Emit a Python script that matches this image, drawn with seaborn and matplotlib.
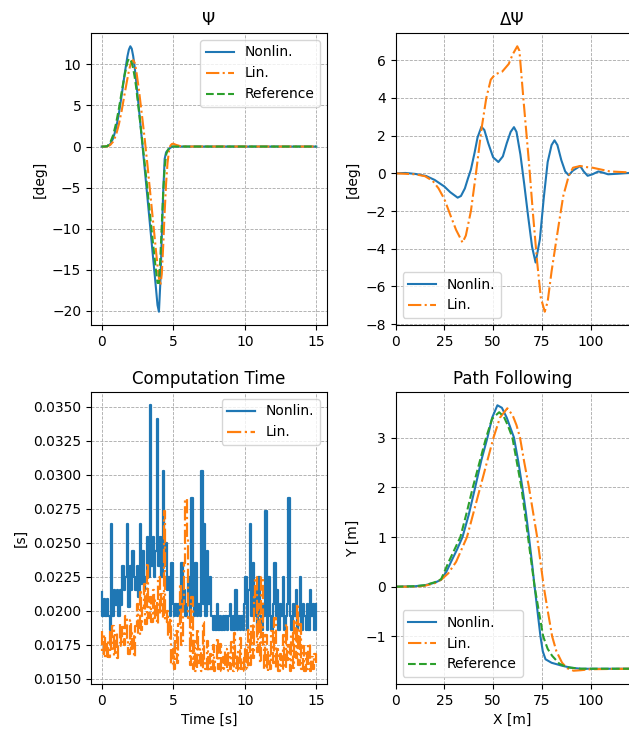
import numpy as np
import matplotlib
matplotlib.use("Agg")
import matplotlib.pyplot as plt
import seaborn as sns

# ---------------- data ----------------
# Psi (heading) vs time
psi_t = [0, 0.2, 0.4, 0.6, 0.8, 1.0, 1.2, 1.4, 1.6, 1.8, 1.9, 2.0, 2.1, 2.2, 2.3, 2.4,
         2.6, 2.8, 3.0, 3.2, 3.4, 3.6, 3.8, 3.9, 4.0, 4.1, 4.2, 4.3, 4.4, 4.5, 4.6, 4.7,
         4.8, 4.9, 5.0, 5.2, 5.5, 6.0, 15.0]
psi_nonlin = [0, 0, 0.05, 0.3, 1.0, 2.2, 4.0, 6.3, 8.8, 11.0, 11.8, 12.2, 11.9, 11.0, 9.7, 8.1,
              4.6, 1.0, -2.6, -6.3, -10.0, -13.7, -17.4, -19.3, -20.1, -16.5, -11.0, -5.5, -1.5, -0.7, -0.5, -0.3,
              -0.15, -0.05, 0, 0, 0, 0, 0]
psi_lin = [0, 0, 0.02, 0.2, 0.6, 1.4, 2.7, 4.4, 6.4, 8.3, 9.2, 9.9, 10.4, 10.5, 10.2, 9.4,
           6.9, 4.0, 1.0, -2.3, -5.8, -9.3, -12.8, -14.5, -16.0, -16.9, -15.5, -12.0, -8.0, -4.5, -2.0, -0.6,
           0.1, 0.3, 0.35, 0.2, 0.05, 0, 0]
psi_ref = [0, 0, 0.05, 0.5, 1.4, 2.8, 4.6, 6.7, 8.7, 10.3, 10.7, 10.6, 10.2, 9.5, 8.5, 7.3,
           4.3, 1.2, -2.0, -5.3, -8.7, -12.0, -15.2, -16.6, -16.6, -13.5, -9.5, -5.5, -2.5, -1.0, -0.5, -0.2,
           -0.05, 0, 0, 0, 0, 0, 0]

# Delta Psi vs X
dpsi_x_nonlin = [0, 5, 10, 15.6, 20, 25, 28, 31.8, 33.5, 35.5, 37, 38.6, 40.5, 42, 44, 45.5,
                 47.5, 50, 52.7, 55, 57, 59, 60.7, 62, 64, 66, 68, 70, 71.8, 74, 76, 78,
                 80, 81.5, 83, 85, 87, 88.8, 91, 94.7, 96.5, 98.5, 101, 104, 106, 109, 114, 120]
dpsi_nonlin = [0, 0.02, -0.03, -0.14, -0.35, -0.7, -1.0, -1.29, -1.2, -0.8, -0.3, 0.2, 1.1, 1.9, 2.47, 2.3,
               1.6, 0.85, 0.6, 0.9, 1.6, 2.2, 2.45, 2.2, 1.0, -0.6, -2.3, -3.9, -4.73, -3.5, -1.3, 0.6,
               1.5, 1.75, 1.5, 0.7, 0.1, -0.1, 0.15, 0.39, 0.1, -0.13, -0.05, 0.1, 0.05, -0.05, -0.02, 0.02]
dpsi_x_lin = [0, 10, 15, 19, 22, 25, 28, 31, 34.3, 36, 38.6, 41.2, 44, 46.5, 48.8, 51,
              54.7, 58, 60, 62.4, 63.5, 65.5, 68.4, 70.5, 72.6, 74.5, 76.5, 78, 80, 82, 84, 86,
              88.8, 91, 94.7, 98, 101, 110, 120]
dpsi_lin = [0, -0.05, -0.15, -0.4, -0.8, -1.37, -2.2, -3.0, -3.67, -3.3, -2.0, 0.0, 2.33, 4.0, 4.97, 5.25,
            5.4, 5.8, 6.3, 6.74, 6.5, 4.0, 0.57, -2.2, -4.7, -6.6, -7.34, -6.8, -5.2, -3.84, -2.5, -1.2,
            -0.14, 0.3, 0.39, 0.33, 0.3, 0.1, 0.05]

# Computation time (ms), sampled every 0.1 s from 0 to 15 s
comp_nonlin_ms = [
    21.4, 19.6, 20.9, 19.6, 20.9, 19.6, 18.6, 26.4, 19.6, 21.5,
    20.4, 21.5, 19.6, 21.5, 20.4, 23.3, 21.5, 22.5, 26.4, 20.3,
    23.3, 21.5, 24.4, 22.5, 21.5, 23.3, 21.0, 26.4, 22.0, 24.4,
    21.5, 22.5, 25.4, 22.5, 35.1, 23.3, 25.4, 22.5, 24.4, 34.1,
    23.3, 25.4, 22.5, 30.3, 23.3, 25.0, 21.5, 22.5, 19.6, 23.5,
    20.5, 19.6, 20.5, 19.6, 20.5, 19.6, 23.5, 20.5, 21.5, 19.6,
    20.5, 22.5, 19.6, 28.3, 20.5, 19.6, 23.5, 19.6, 20.5, 19.6,
    30.3, 20.5, 26.4, 19.6, 24.4, 20.5, 22.5, 19.6, 18.6, 19.6,
    18.6, 20.5, 18.6, 19.6, 18.6, 19.6, 18.6, 19.6, 18.6, 19.6,
    20.5, 18.6, 19.6, 18.6, 21.5, 18.6, 19.6, 18.6, 19.6, 18.6,
    20.5, 22.5, 18.6, 21.5, 26.4, 19.6, 23.5, 19.6, 21.5, 18.6,
    22.5, 19.6, 18.6, 20.5, 19.6, 27.3, 18.6, 22.5, 19.6, 18.6,
    20.5, 23.5, 19.6, 21.5, 18.6, 20.5, 19.6, 22.5, 18.6, 19.6,
    20.5, 28.3, 19.6, 18.6, 20.5, 19.6, 21.5, 18.6, 19.6, 22.5,
    18.6, 20.5, 19.6, 18.6, 20.5, 18.6, 21.5, 19.6, 20.5, 18.6,
    20.5]
comp_lin_ms = [
    18.5, 16.8, 18.2, 16.5, 17.8, 16.6, 18.6, 17.2, 18.9, 16.7,
    18.4, 16.5, 17.6, 19.0, 17.4, 18.8, 17.5, 19.6, 18.0, 16.8,
    19.3, 17.2, 18.4, 16.6, 18.9, 20.5, 18.2, 21.5, 18.6, 20.2,
    22.0, 19.0, 23.5, 19.5, 21.0, 19.2, 21.5, 19.5, 20.8, 19.0,
    22.5, 19.8, 21.2, 19.5, 27.3, 19.2, 20.0, 18.0, 19.5, 16.0,
    17.2, 15.7, 18.5, 16.2, 19.0, 22.0, 17.5, 20.5, 23.5, 28.2,
    25.3, 19.5, 16.0, 21.0, 15.7, 17.8, 15.6, 18.7, 16.2, 17.2,
    15.6, 19.2, 16.3, 15.7, 17.8, 15.6, 16.8, 15.7, 17.5, 15.6,
    16.4, 18.0, 15.7, 17.6, 15.6, 16.6, 15.7, 17.2, 15.6, 16.9,
    15.7, 17.7, 15.6, 18.4, 15.8, 17.0, 15.6, 18.0, 15.7, 16.5,
    15.6, 17.5, 15.7, 18.6, 16.0, 19.0, 16.5, 21.0, 22.5, 17.0,
    20.5, 16.2, 22.5, 17.5, 15.7, 18.2, 15.6, 17.0, 15.7, 18.5,
    16.2, 19.5, 15.8, 17.2, 15.6, 16.8, 15.7, 18.2, 15.8, 19.0,
    16.4, 17.5, 15.6, 18.4, 15.8, 19.3, 16.5, 20.5, 16.0, 19.0,
    15.7, 17.4, 15.6, 16.9, 15.7, 17.6, 15.6, 16.6, 15.7, 16.8,
    16.2]
comp_t = np.round(np.arange(len(comp_nonlin_ms)) * 0.1, 1)

# Path following (X, Y)
path_x_nonlin = [0, 10, 15, 20, 23.3, 26, 28.4, 31.5, 34.3, 37.5, 40.8, 44, 47.1, 49.5, 52.2, 54.5,
                 57, 60.7, 63, 65, 66.8, 68.4, 69.9, 71.3, 72.8, 74.3, 75.5, 76.9, 80, 85.4, 90, 95, 120]
path_y_nonlin = [0, 0.01, 0.03, 0.08, 0.14, 0.3, 0.5, 0.75, 1.0, 1.45, 2.0, 2.55, 3.0, 3.4, 3.65, 3.6,
                 3.4, 3.0, 2.5, 2.0, 1.5, 1.0, 0.5, 0.0, -0.5, -1.0, -1.3, -1.46, -1.53, -1.59, -1.63, -1.65, -1.65]
path_x_lin = [0, 10, 15, 20, 23.3, 27, 31, 33.8, 36.6, 40, 43.4, 46.8, 50.2, 53.5, 57.3, 60,
              62, 63.8, 66, 68.4, 70.5, 72.6, 74.3, 76, 78.1, 80.3, 82.5, 85.4, 88, 91.3, 95, 100, 120]
path_y_lin = [0, 0.0, 0.02, 0.07, 0.14, 0.27, 0.5, 0.75, 1.0, 1.5, 2.0, 2.5, 3.0, 3.4, 3.59, 3.45,
              3.25, 3.0, 2.5, 2.0, 1.5, 1.0, 0.5, 0.0, -0.5, -1.0, -1.3, -1.53, -1.64, -1.69, -1.68, -1.66, -1.65]
path_x_ref = [0, 10, 15, 20, 23.3, 25, 27.2, 30.2, 33.2, 36.5, 39.6, 43, 46.4, 49.5, 53.1, 55.5,
              57.5, 59.9, 62.2, 64.5, 66.2, 67.9, 69.6, 71.3, 73.5, 75.7, 78, 80.3, 84, 88, 95, 120]
path_y_ref = [0, 0.01, 0.03, 0.09, 0.15, 0.3, 0.5, 0.75, 1.0, 1.5, 2.0, 2.5, 3.0, 3.38, 3.51, 3.42,
              3.25, 3.0, 2.5, 2.0, 1.5, 1.0, 0.5, 0.0, -0.5, -1.0, -1.25, -1.39, -1.55, -1.62, -1.65, -1.65]

C_NL, C_L, C_R = "#1f77b4", "#ff7f0e", "#2ca02c"

# ---------------- figure ----------------
W, H = 629, 729
fig = plt.figure(figsize=(W / 100, H / 100), dpi=100)

def add_ax(x0, y0, x1, y1):
    return fig.add_axes([x0 / W, 1 - y1 / H, (x1 - x0) / W, (y1 - y0) / H])

ax_tl = add_ax(91, 33, 327, 325)
ax_tr = add_ax(395.7, 33, 629.5, 325)
ax_bl = add_ax(91, 392, 327, 684)
ax_br = add_ax(395.7, 392, 629.5, 684)

def grid(ax):
    ax.grid(True, linestyle="--", color="#a8a8a8", linewidth=0.6)
    ax.set_axisbelow(True)

# Psi
sns.lineplot(x=psi_t, y=psi_nonlin, ax=ax_tl, color=C_NL, linestyle="-", label="Nonlin.", lw=1.5)
sns.lineplot(x=psi_t, y=psi_lin, ax=ax_tl, color=C_L, linestyle="-.", label="Lin.", lw=1.5)
sns.lineplot(x=psi_t, y=psi_ref, ax=ax_tl, color=C_R, linestyle="--", label="Reference", lw=1.5)
ax_tl.set_title("Ψ")
ax_tl.set_ylabel("[deg]")
ax_tl.set_xticks([0, 5, 10, 15])
ax_tl.legend(loc="upper right")
grid(ax_tl)

# Delta Psi
sns.lineplot(x=dpsi_x_nonlin, y=dpsi_nonlin, ax=ax_tr, color=C_NL, linestyle="-", label="Nonlin.", lw=1.5)
sns.lineplot(x=dpsi_x_lin, y=dpsi_lin, ax=ax_tr, color=C_L, linestyle="-.", label="Lin.", lw=1.5)
ax_tr.set_title("ΔΨ")
ax_tr.set_ylabel("[deg]")
ax_tr.set_xlim(0, 120)
ax_tr.set_xticks([0, 25, 50, 75, 100])
ax_tr.legend(loc="lower left")
grid(ax_tr)

# Computation time
sns.lineplot(x=comp_t, y=np.array(comp_nonlin_ms) / 1000, ax=ax_bl, color=C_NL, linestyle="-",
             label="Nonlin.", lw=1.6, drawstyle="steps-mid")
sns.lineplot(x=comp_t, y=np.array(comp_lin_ms) / 1000, ax=ax_bl, color=C_L, linestyle="-.",
             label="Lin.", lw=1.6, drawstyle="steps-mid")
ax_bl.set_title("Computation Time")
ax_bl.set_ylabel("[s]")
ax_bl.set_xlabel("Time [s]")
ax_bl.set_xticks([0, 5, 10, 15])
ax_bl.legend(loc="upper right")
grid(ax_bl)

# Path following
sns.lineplot(x=path_x_nonlin, y=path_y_nonlin, ax=ax_br, color=C_NL, linestyle="-", label="Nonlin.", lw=1.5, sort=False)
sns.lineplot(x=path_x_lin, y=path_y_lin, ax=ax_br, color=C_L, linestyle="-.", label="Lin.", lw=1.5, sort=False)
sns.lineplot(x=path_x_ref, y=path_y_ref, ax=ax_br, color=C_R, linestyle="--", label="Reference", lw=1.5, sort=False)
ax_br.set_title("Path Following")
ax_br.set_ylabel("Y [m]")
ax_br.set_xlabel("X [m]")
ax_br.set_xlim(0, 120)
ax_br.set_xticks([0, 25, 50, 75, 100])
ax_br.legend(loc="lower left")
grid(ax_br)

fig.savefig("out.png", dpi=100)
